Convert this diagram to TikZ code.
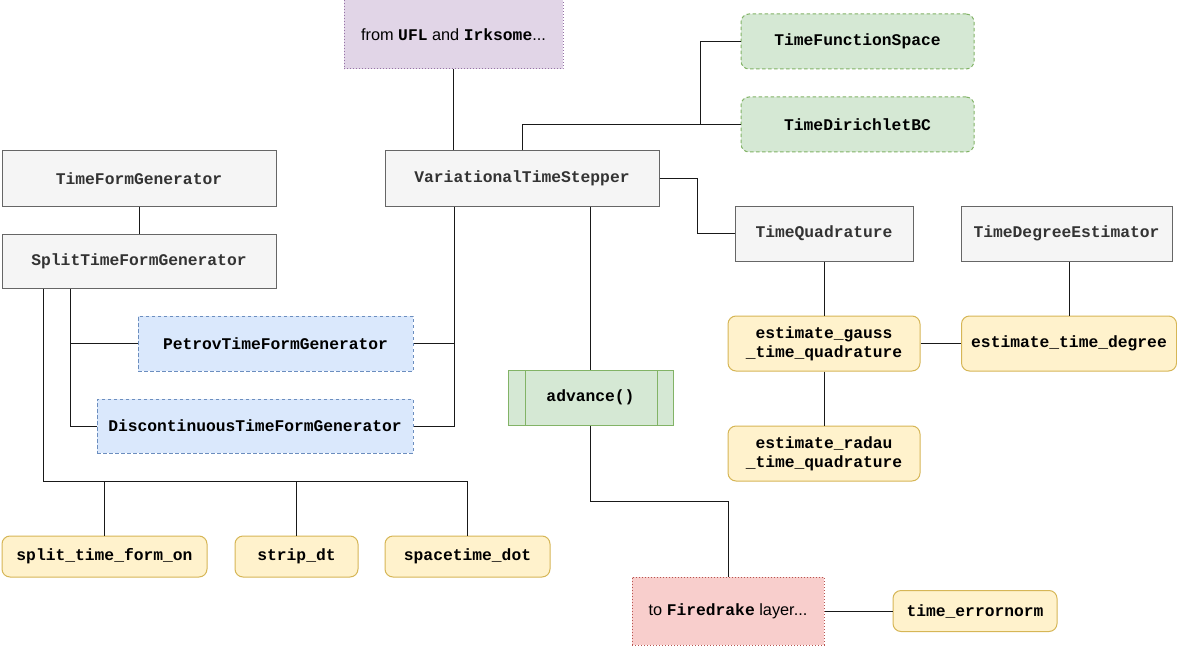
\documentclass[tikz,border=0pt]{standalone}
\usepackage{fontspec}
\setmainfont{Liberation Sans}
\setmonofont{Liberation Mono}
\usetikzlibrary{calc}
\definecolor{grayfill}{HTML}{F5F5F5}
\definecolor{graydraw}{HTML}{666666}
\definecolor{graytext}{HTML}{333333}
\definecolor{greenfill}{HTML}{D5E8D4}
\definecolor{greendraw}{HTML}{82B366}
\definecolor{bluefill}{HTML}{DAE8FC}
\definecolor{bluedraw}{HTML}{6C8EBF}
\definecolor{yellowfill}{HTML}{FFF2CC}
\definecolor{yellowdraw}{HTML}{D6B656}
\definecolor{redfill}{HTML}{F8CECC}
\definecolor{reddraw}{HTML}{B85450}
\definecolor{purplefill}{HTML}{E1D5E7}
\definecolor{purpledraw}{HTML}{9673A6}
\newcommand{\mytt}[1]{{\ttfamily\bfseries #1}}
\begin{document}
\begin{tikzpicture}[x=1pt,y=-1pt,
  box/.style={draw, line width=1pt, inner sep=0pt, align=center,
    font=\fontsize{16.3}{19}\selectfont},
  codebox/.style={box, font=\fontsize{16.3}{19}\selectfont\ttfamily\bfseries},
  graybox/.style={codebox, fill=grayfill, draw=graydraw, text=graytext},
  greenbox/.style={codebox, fill=greenfill, draw=greendraw, rounded corners=8pt, dash pattern=on 3.5pt off 2.5pt},
  bluebox/.style={codebox, fill=bluefill, draw=bluedraw, dash pattern=on 3.5pt off 2.5pt},
  yellowbox/.style={codebox, fill=yellowfill, draw=yellowdraw, rounded corners=8pt},
  redbox/.style={box, fill=redfill, draw=reddraw, dash pattern=on 1.2pt off 1.8pt},
  purplebox/.style={box, fill=purplefill, draw=purpledraw, dash pattern=on 1.2pt off 1.8pt},
  procbox/.style={codebox, fill=greenfill, draw=greendraw,
    path picture={
      \draw[greendraw, line width=1pt]
        ([xshift=17.5pt]path picture bounding box.north west) -- ([xshift=17.5pt]path picture bounding box.south west)
        ([xshift=-16pt]path picture bounding box.north east) -- ([xshift=-16pt]path picture bounding box.south east);
    }},
  link/.style={draw=black!90, line width=1pt}
]
\useasboundingbox (0,0) rectangle (1177,647);

% nodes
\node[purplebox, minimum width=219pt, minimum height=69pt] (ufl) at (453.5,34.5)
  {from \mytt{UFL} and \mytt{Irksome}...};
\node[greenbox, minimum width=233pt, minimum height=55pt] (tfs) at (857.5,41.5) {TimeFunctionSpace};
\node[greenbox, minimum width=233pt, minimum height=55pt] (tdbc) at (857.5,124.5) {TimeDirichletBC};
\node[graybox, minimum width=274pt, minimum height=55pt] (tfg) at (139,178.5) {TimeFormGenerator};
\node[graybox, minimum width=274pt, minimum height=54pt] (stfg) at (139,261) {SplitTimeFormGenerator};
\node[graybox, minimum width=274pt, minimum height=55pt] (vts) at (522,178.5) {VariationalTimeStepper};
\node[graybox, minimum width=178pt, minimum height=55pt] (tq) at (824,233.5) {TimeQuadrature};
\node[graybox, minimum width=211pt, minimum height=55pt] (tde) at (1066.5,233.5) {TimeDegreeEstimator};
\node[bluebox, minimum width=275pt, minimum height=55pt] (petrov) at (275.5,343.5) {PetrovTimeFormGenerator};
\node[bluebox, minimum width=316pt, minimum height=54pt] (disc) at (255,426) {DiscontinuousTimeFormGenerator};
\node[procbox, minimum width=165pt, minimum height=55pt] (adv) at (590.5,397.5) {advance()};
\node[yellowbox, minimum width=192pt, minimum height=55pt] (egauss) at (824,343.5) {estimate\_gauss\\\_time\_quadrature};
\node[yellowbox, minimum width=215pt, minimum height=55pt] (etd) at (1069,343.5) {estimate\_time\_degree};
\node[yellowbox, minimum width=192pt, minimum height=55pt] (eradau) at (824,453.5) {estimate\_radau\\\_time\_quadrature};
\node[yellowbox, minimum width=205pt, minimum height=41pt] (split) at (104.5,556.5) {split\_time\_form\_on};
\node[yellowbox, minimum width=123pt, minimum height=41pt] (strip) at (296.5,556.5) {strip\_dt};
\node[yellowbox, minimum width=165pt, minimum height=41pt] (stdot) at (467.5,556.5) {spacetime\_dot};
\node[redbox, minimum width=192pt, minimum height=68pt] (fire) at (728,611)
  {to \mytt{Firedrake} layer...};
\node[yellowbox, minimum width=164pt, minimum height=41pt] (terr) at (975,611) {time\_errornorm};

% junction coordinates
\coordinate (jA) at (700,124.5);
\coordinate (jC) at (454,343.5);
\coordinate (jD) at (728,501);
\coordinate (jE) at (70,343.5);
\coordinate (jF) at (43,481);

% connectors
\draw[link] (ufl.south) -- (ufl.south |- vts.north);
\draw[link] (vts.north) |- (tdbc.west);
\draw[link] (tfs.west) -| (jA);
\draw[link] (vts.east) -| ($(vts.east)!.5!(tq.west)$) |- (tq.west);
\draw[link] (tfg.south) -- (stfg.north);
\draw[link] (vts.south -| jC) -- (jC |- disc.east) -- (disc.east);
\draw[link] (petrov.east) -- (jC);
\draw[link] (vts.south -| adv.north) -- (adv.north);
\draw[link] (adv.south) |- (jD) -- (fire.north);
\draw[link] (fire.east) -- (terr.west);
\draw[link] (tq.south) -- (egauss.north);
\draw[link] (egauss.south) -- (eradau.north);
\draw[link] (egauss.east) -- (etd.west);
\draw[link] (etd.north) -- (etd.north |- tde.south);
\draw[link] (stfg.south -| jE) -- (jE |- disc.west) -- (disc.west);
\draw[link] (jE) -- (petrov.west);
\draw[link] (stfg.south -| jF) -- (jF) -| (stdot.north);
\draw[link] (split.north) -- (split.north |- jF);
\draw[link] (strip.north) -- (strip.north |- jF);
\end{tikzpicture}
\end{document}
